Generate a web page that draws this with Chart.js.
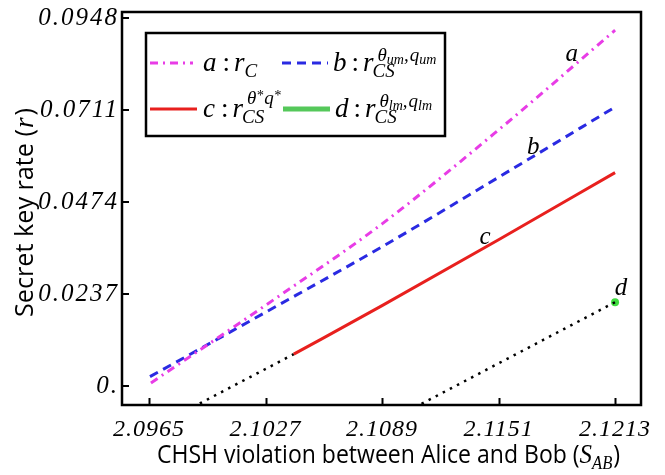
<!DOCTYPE html>
<html><head><meta charset="utf-8">
<script src="https://cdn.jsdelivr.net/npm/chart.js@4.4.1/dist/chart.umd.min.js"></script>
<style>html,body{margin:0;padding:0;background:#fff;}canvas{display:block;}</style>
</head><body>
<canvas id="c" width="665" height="475"></canvas>
<script>
// ---- axis ticks ----
const xTickValues = [2.0965, 2.1027, 2.1089, 2.1151, 2.1213];
const xTickLabels = ['2.0965', '2.1027', '2.1089', '2.1151', '2.1213'];
const yTickValues = [0, 0.0237, 0.0474, 0.0711, 0.0948];
const yTickLabels = ['0.', '0.0237', '0.0474', '0.0711', '0.0948'];

// ---- series ----
const aS = [2.0966, 2.1027, 2.1089, 2.1151, 2.1213];
const aR = [0.0008, 0.0208, 0.0418, 0.0660, 0.0917];
const bS = [2.09655, 2.1027, 2.1089, 2.1151, 2.1213];
const bR = [0.0024, 0.0190, 0.0359, 0.0538, 0.0719];
const cS = [2.1042, 2.1089, 2.1151, 2.1213];
const cR = [0.0082, 0.0207, 0.0377, 0.0550];
const cExtS = [2.0992, 2.1042];
const cExtR = [-0.0045, 0.0082];
const dS = [2.1213];
const dR = [0.0216];
const dExtS = [2.1110, 2.1213];
const dExtR = [-0.0046, 0.0216];

// ---- curve letters (data coordinates) ----
const curveLabelText = ['a', 'b', 'c', 'd'];
const curveLabelS = [2.1190, 2.11694, 2.11438, 2.12162];
const curveLabelR = [0.0855, 0.0615, 0.0383, 0.0252];

const xTitle = 'CHSH violation between Alice and Bob (';
const yTitle = 'Secret key rate (';

const MAG = '#e83ce6', BLUE = '#2a2ae2', RED = '#e8201e', GREEN = '#3fdc3f', LGREEN = '#55c85a';
const SERIF = "'Liberation Serif', 'Times New Roman', serif";
const SANS = "'Open Sans', 'Noto Sans', sans-serif";

const pts = (xs, ys) => xs.map((x, i) => ({ x: x, y: ys[i] }));

function seq(ctx, x, y, items) {
  let cx = x;
  for (const it of items) {
    cx += it.g || 0;
    ctx.font = it.f;
    ctx.fillText(it.t, cx, y + (it.dy || 0));
    cx += ctx.measureText(it.t).width;
  }
  return cx;
}

function drawFitted(ctx, segs, targetW) {
  let w = 0;
  segs.forEach(s => { ctx.font = s.f; s.w = ctx.measureText(s.t).width; w += s.w + (s.g || 0); });
  const k = targetW / w;
  ctx.scale(k, 1);
  let cx = 0;
  segs.forEach(s => { cx += s.g || 0; ctx.font = s.f; ctx.fillText(s.t, cx, s.dy || 0); cx += s.w; });
}

const decorPlugin = {
  id: 'decor',
  afterDatasetsDraw(chart) {
    const ctx = chart.ctx, ca = chart.chartArea;
    const xs = chart.scales.x, ys = chart.scales.y;
    ctx.save();
    ctx.letterSpacing = '0px';
    // inner ticks
    ctx.strokeStyle = '#000'; ctx.lineWidth = 2; ctx.setLineDash([]);
    ctx.beginPath();
    xTickValues.forEach(v => { const p = Math.round(xs.getPixelForValue(v)) + 0.5; ctx.moveTo(p, ca.bottom); ctx.lineTo(p, ca.bottom - 7); });
    yTickValues.forEach(v => { const p = Math.round(ys.getPixelForValue(v)); ctx.moveTo(ca.left, p); ctx.lineTo(ca.left + 7, p); });
    ctx.stroke();
    // frame
    ctx.lineWidth = 2.5;
    ctx.strokeRect(ca.left, ca.top, ca.right - ca.left, ca.bottom - ca.top);

    // curve letters
    ctx.fillStyle = '#000';
    ctx.textAlign = 'center'; ctx.textBaseline = 'middle';
    ctx.font = 'italic 25px ' + SERIF;
    curveLabelText.forEach((t, i) => {
      ctx.fillText(t, xs.getPixelForValue(curveLabelS[i]), ys.getPixelForValue(curveLabelR[i]));
    });

    // legend box
    const L = ca.left + 24, T = ca.top + 21, R = ca.left + 323, B = ca.top + 124;
    ctx.fillStyle = '#fff';
    ctx.fillRect(L, T, R - L, B - T);
    ctx.strokeStyle = '#000'; ctx.lineWidth = 2.5;
    ctx.strokeRect(L, T, R - L, B - T);
    const ds = chart.data.datasets;
    const row1 = T + 30, row2 = T + 76;
    const sample = (x1, x2, y, d, w, col) => {
      ctx.beginPath(); ctx.strokeStyle = col || d.borderColor; ctx.lineWidth = w || d.borderWidth;
      ctx.setLineDash(d.borderDash || []); ctx.moveTo(x1, y); ctx.lineTo(x2, y); ctx.stroke();
    };
    sample(L + 4, L + 47, row1, ds[0]);
    sample(L + 136, L + 182, row1, ds[1]);
    sample(L + 4, L + 51, row2, ds[2]);
    sample(L + 137, L + 184, row2, ds[5], 5, LGREEN);
    ctx.setLineDash([]);
    ctx.fillStyle = '#000'; ctx.textAlign = 'left'; ctx.textBaseline = 'alphabetic';
    const BIG = 'italic 27px ' + SERIF, UP = '27px ' + SERIF, SUB = 'italic 19px ' + SERIF,
          SUP = 'italic 19px ' + SERIF, SS = 'italic 14px ' + SERIF;
    const b1 = row1 + 8, b2 = row2 + 8;
    // a : r_C
    let x = seq(ctx, L + 57, b1, [{ t: 'a', f: BIG }, { t: ':', f: UP, g: 6 }, { t: 'r', f: BIG, g: 4 }]);
    seq(ctx, x, b1, [{ t: 'C', f: SUB, dy: 6 }]);
    // b : r_CS^{θum,qum}
    x = seq(ctx, L + 187, b1, [{ t: 'b', f: BIG }, { t: ':', f: UP, g: 5 }, { t: 'r', f: BIG, g: 4 }]);
    seq(ctx, x - 1, b1, [{ t: 'CS', f: SUB, dy: 6 }]);
    seq(ctx, x + 4, b1, [{ t: 'θ', f: SUP, dy: -10 }, { t: 'um', f: SS, dy: -7 }, { t: ',', f: SUP, dy: -10 }, { t: 'q', f: SUP, dy: -10, g: 1 }, { t: 'um', f: SS, dy: -7 }]);
    // c : r_CS^{θ*q*}
    x = seq(ctx, L + 57, b2, [{ t: 'c', f: BIG }, { t: ':', f: UP, g: 6 }, { t: 'r', f: BIG, g: 4 }]);
    seq(ctx, x - 1, b2, [{ t: 'CS', f: SUB, dy: 6 }]);
    seq(ctx, x + 4, b2, [{ t: 'θ', f: SUP, dy: -13 }, { t: '*', f: SS, dy: -17 }, { t: 'q', f: SUP, dy: -13, g: 1 }, { t: '*', f: SS, dy: -17 }]);
    // d : r_CS^{θlm,qlm}
    x = seq(ctx, L + 189, b2, [{ t: 'd', f: BIG }, { t: ':', f: UP, g: 5 }, { t: 'r', f: BIG, g: 4 }]);
    seq(ctx, x - 1, b2, [{ t: 'CS', f: SUB, dy: 6 }]);
    seq(ctx, x + 4, b2, [{ t: 'θ', f: SUP, dy: -10 }, { t: 'lm', f: SS, dy: -7 }, { t: ',', f: SUP, dy: -10 }, { t: 'q', f: SUP, dy: -10, g: 1 }, { t: 'lm', f: SS, dy: -7 }]);

    // axis titles
    ctx.fillStyle = '#000';
    ctx.save();
    ctx.translate(157, 463);
    drawFitted(ctx, [
      { t: xTitle, f: '25px ' + SANS },
      { t: 'S', f: 'italic 27px ' + SERIF },
      { t: 'AB', f: 'italic 18px ' + SERIF, dy: 6 },
      { t: ')', f: '25px ' + SANS, g: 1 }
    ], 463);
    ctx.restore();
    ctx.save();
    ctx.translate(33, 317);
    ctx.rotate(-Math.PI / 2);
    drawFitted(ctx, [
      { t: yTitle, f: '25px ' + SANS },
      { t: 'r', f: 'italic 27px ' + SERIF, g: 1 },
      { t: ')', f: '25px ' + SANS, g: 2 }
    ], 209);
    ctx.restore();
    ctx.restore();
  }
};

const zeroPad = s => { s.paddingTop = 0; s.paddingBottom = 0; s.paddingLeft = 0; s.paddingRight = 0; };

const chart = new Chart(document.getElementById('c'), {
  type: 'scatter',
  data: {
    datasets: [
      { label: 'a', data: pts(aS, aR), showLine: true, borderColor: MAG, borderWidth: 3, borderDash: [8, 5, 2, 5], pointRadius: 0, cubicInterpolationMode: 'monotone' },
      { label: 'b', data: pts(bS, bR), showLine: true, borderColor: BLUE, borderWidth: 3, borderDash: [9, 6], pointRadius: 0, cubicInterpolationMode: 'monotone' },
      { label: 'c', data: pts(cS, cR), showLine: true, borderColor: RED, borderWidth: 3, pointRadius: 0, cubicInterpolationMode: 'monotone' },
      { label: 'c ext', data: pts(cExtS, cExtR), showLine: true, borderColor: '#000', borderWidth: 2.5, borderDash: [2.5, 5.5], pointRadius: 0 },
      { label: 'd ext', data: pts(dExtS, dExtR), showLine: true, borderColor: '#000', borderWidth: 2.5, borderDash: [2.5, 5.5], pointRadius: 0 },
      { label: 'd', data: pts(dS, dR), showLine: false, pointRadius: 4, pointBackgroundColor: GREEN, pointBorderWidth: 0, borderColor: GREEN }
    ]
  },
  options: {
    responsive: false, animation: false, devicePixelRatio: 1,
    layout: { padding: { top: 12, right: 24, left: 0, bottom: 0 } },
    plugins: { legend: { display: false }, tooltip: { enabled: false } },
    scales: {
      x: {
        type: 'linear', min: 2.09506, max: 2.12268,
        afterBuildTicks: s => { s.ticks = xTickValues.map(v => ({ value: v })); },
        afterFit: s => { s.height = 70; zeroPad(s); },
        grid: { display: false, drawTicks: false }, border: { display: false },
        ticks: { autoSkip: false, maxRotation: 0, padding: 10, color: '#000',
          font: { family: SERIF, style: 'italic', size: 24 },
          callback: (v, i) => xTickLabels[i] }
      },
      y: {
        type: 'linear', min: -0.0049, max: 0.0964,
        afterBuildTicks: s => { s.ticks = yTickValues.map(v => ({ value: v })); },
        afterFit: s => { s.width = 122; zeroPad(s); },
        grid: { display: false, drawTicks: false }, border: { display: false },
        ticks: { autoSkip: false, padding: 3, color: '#000',
          font: { family: SERIF, style: 'italic', size: 25 },
          callback: (v, i) => yTickLabels[i] }
      }
    }
  },
  plugins: [decorPlugin]
});

function spaced(scale, sp) {
  const orig = scale.drawLabels.bind(scale);
  scale.drawLabels = function (area) {
    const ctx = this.ctx; ctx.save(); ctx.letterSpacing = sp; orig(area); ctx.restore();
  };
}
spaced(chart.scales.x, '1px');
spaced(chart.scales.y, '2px');
chart.draw();
</script>
</body></html>
